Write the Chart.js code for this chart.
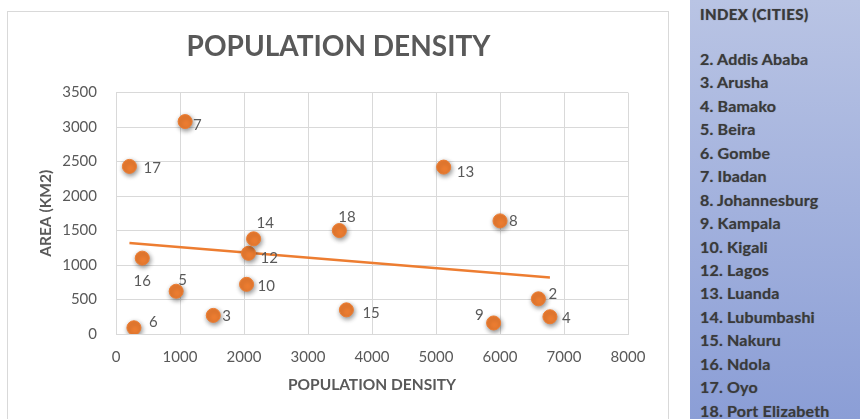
<!DOCTYPE html>
<html>
<head>
<meta charset="utf-8">
<script src="https://cdn.jsdelivr.net/npm/chart.js@4"></script>
<style>
  html, body { margin: 0; padding: 0; background: #fff; }
  body { width: 861px; height: 419px; position: relative; overflow: hidden; font-family: Lato, "Open Sans", sans-serif; }
  #frame { position: absolute; left: 7px; top: 11px; width: 662px; height: 410px; border: 1px solid #d9d9d9; box-sizing: border-box; }
  #chart-box { position: absolute; left: 7px; top: 11px; width: 663px; height: 408px; }
  #index-panel { position: absolute; left: 690px; top: 0; width: 170px; height: 419px;
    background: linear-gradient(to bottom, #b9c4e4, #8b9ed6); color: #3a3a3a; }
  #index-panel h4 { margin: 0; position: absolute; left: 10px; top: 4px; font-size: 15px; line-height: 20px;
    font-weight: 900; letter-spacing: 0.4px; white-space: nowrap; }
  #index-list { list-style: none; margin: 0; padding: 0; position: absolute; left: 10px; top: 47px; font-size: 16px; font-weight: 700; }
  #index-list li { height: 23.45px; line-height: 23px; white-space: nowrap; letter-spacing: 0.2px; }
  #index-panel h4, #index-list { text-shadow: 0 0 1px rgba(60,60,60,0.5); }
</style>
</head>
<body>
<div id="frame"></div>
<div id="chart-box"><canvas id="scatter-chart"></canvas></div>
<div id="index-panel">
  <h4>INDEX (CITIES)</h4>
  <ul id="index-list"></ul>
</div>
<script>
// city index numbers, population density (x) and area in km2 (y)
const cityIndex = ['7', '17', '16', '5', '6', '3', '10', '12', '14', '18', '15', '13', '8', '2', '9', '4'];
const densityValues = [1080, 210, 410, 940, 280, 1520, 2040, 2070, 2150, 3490, 3600, 5120, 6000, 6600, 5900, 6780];
const areaValues = [3080, 2430, 1100, 620, 90, 270, 720, 1170, 1380, 1500, 350, 2420, 1640, 510, 160, 250];

// linear trendline end points
const trendX = [210, 6780];
const trendY = [1320, 820];

const xTicks = [0, 1000, 2000, 3000, 4000, 5000, 6000, 7000, 8000];
const yTicks = [0, 500, 1000, 1500, 2000, 2500, 3000, 3500];

const indexNames = ['2. Addis Ababa', '3. Arusha', '4. Bamako', '5. Beira', '6. Gombe', '7. Ibadan',
  '8. Johannesburg', '9. Kampala', '10. Kigali', '12. Lagos', '13. Luanda', '14. Lubumbashi',
  '15. Nakuru', '16. Ndola', '17. Oyo', '18. Port Elizabeth'];

// label placement next to each marker (pixel offsets, text align)
const labelOffsets = [[8, 4, 'left'], [14, 2, 'left'], [0, 23, 'center'], [2, -11, 'left'], [15, -6, 'left'],
  [9, 1, 'left'], [11, 2, 'left'], [12, 5, 'left'], [3, -16, 'left'], [-1, -13, 'left'], [16, 3, 'left'],
  [13, 5, 'left'], [9, 0, 'left'], [10, -5, 'left'], [-10, -8, 'right'], [12, 1, 'left']];

const list = document.getElementById('index-list');
indexNames.forEach(name => {
  const li = document.createElement('li');
  li.textContent = name;
  list.appendChild(li);
});

const grey = '#595959';
const orange = '#ED7D31';
const fontFamily = 'Lato, "Open Sans", sans-serif';

const points = densityValues.map((x, i) => ({ x: x, y: areaValues[i] }));
const trendPoints = trendX.map((x, i) => ({ x: x, y: trendY[i] }));

const markerShadow = {
  id: 'markerShadow',
  beforeDatasetDraw(chart, args) {
    if (args.index !== 0) return;
    const ctx = chart.ctx;
    ctx.save();
    ctx.shadowColor = 'rgba(0,0,0,0.45)';
    ctx.shadowBlur = 5;
    ctx.shadowOffsetX = 1;
    ctx.shadowOffsetY = 2;
  },
  afterDatasetDraw(chart, args) {
    if (args.index !== 0) return;
    chart.ctx.restore();
  }
};

const pointLabels = {
  id: 'pointLabels',
  afterDatasetsDraw(chart) {
    const ctx = chart.ctx;
    const meta = chart.getDatasetMeta(0);
    ctx.save();
    ctx.font = '15px ' + fontFamily;
    ctx.fillStyle = grey;
    ctx.textBaseline = 'middle';
    meta.data.forEach((el, i) => {
      const off = labelOffsets[i];
      ctx.textAlign = off[2];
      ctx.fillText(cityIndex[i], el.x + off[0], el.y + off[1]);
    });
    ctx.restore();
  }
};

new Chart(document.getElementById('scatter-chart'), {
  type: 'scatter',
  data: {
    datasets: [
      {
        label: 'Cities',
        data: points,
        backgroundColor: orange,
        borderColor: orange,
        pointRadius: 7,
        pointHoverRadius: 7,
        order: 1
      },
      {
        type: 'line',
        label: 'Trend',
        data: trendPoints,
        borderColor: orange,
        borderWidth: 2.5,
        pointRadius: 0,
        fill: false,
        order: 2
      }
    ]
  },
  options: {
    responsive: true,
    maintainAspectRatio: false,
    animation: false,
    layout: { padding: 0 },
    plugins: {
      legend: { display: false },
      tooltip: { enabled: false },
      title: {
        display: true,
        text: 'POPULATION DENSITY',
        color: grey,
        font: { family: fontFamily, size: 28, weight: 'bold' },
        padding: { top: 19, bottom: 29 }
      }
    },
    scales: {
      x: {
        type: 'linear',
        min: 0,
        max: 8000,
        afterBuildTicks: axis => { axis.ticks = xTicks.map(v => ({ value: v })); },
        afterFit: axis => { axis.height = 85; },
        grid: { color: '#d9d9d9', drawTicks: false },
        border: { color: '#d9d9d9' },
        ticks: { color: grey, padding: 14, font: { family: fontFamily, size: 15 }, callback: v => String(v) },
        title: {
          display: true,
          text: 'POPULATION DENSITY',
          color: grey,
          font: { family: fontFamily, size: 15.5, weight: 'bold' },
          padding: { top: 0, bottom: 25 }
        }
      },
      y: {
        type: 'linear',
        min: 0,
        max: 3500,
        afterBuildTicks: axis => { axis.ticks = yTicks.map(v => ({ value: v })); },
        afterFit: axis => { axis.width = 109; },
        grid: { color: '#d9d9d9', drawTicks: false },
        border: { color: '#d9d9d9' },
        ticks: { color: grey, padding: 19, font: { family: fontFamily, size: 15 }, callback: v => String(v) },
        title: {
          display: true,
          text: 'AREA (KM2)',
          color: grey,
          font: { family: fontFamily, size: 15.5, weight: 'bold' },
          padding: { top: 30, bottom: 0 }
        }
      },
      // empty right-hand axis that only reserves the gap right of the plot area
      yRight: {
        type: 'linear',
        position: 'right',
        display: true,
        afterFit: axis => { axis.width = 42; },
        grid: { display: false, drawTicks: false },
        border: { display: false },
        ticks: { display: false }
      }
    }
  },
  plugins: [markerShadow, pointLabels]
});
</script>
</body>
</html>
